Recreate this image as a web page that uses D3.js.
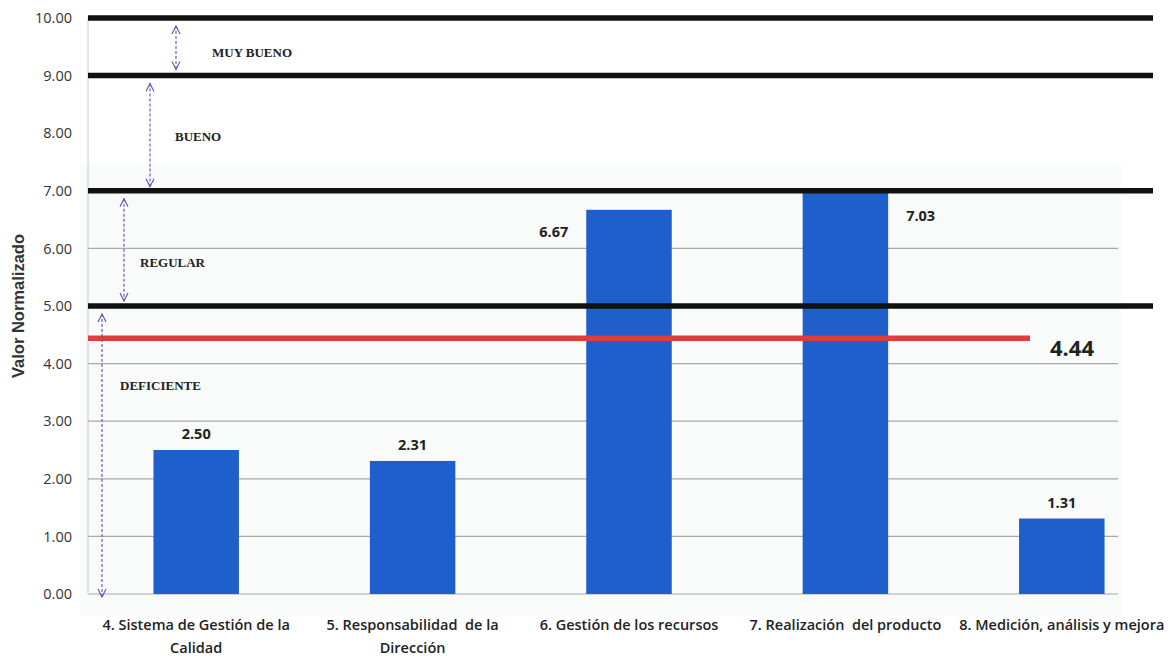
<!DOCTYPE html>
<html><head><meta charset="utf-8">
<script src="https://cdn.jsdelivr.net/npm/d3@7"></script>
<style>body{margin:0;background:#fff}svg{display:block}text{white-space:pre}</style>
</head><body>
<svg id="c" width="1173" height="656"></svg>
<script>
const categories = [
  ["4. Sistema de Gestión de la", "Calidad"],
  ["5. Responsabilidad  de la", "Dirección"],
  ["6. Gestión de los recursos"],
  ["7. Realización  del producto"],
  ["8. Medición, análisis y mejora"]
];
const values = [2.50, 2.31, 6.67, 7.03, 1.31];
const labelSide = ["top", "top", "left", "right", "top"];
const average = 4.44;
const thresholds = [5, 7, 9, 10];
const bands = [
  {name: "DEFICIENTE", lo: 0, hi: 5},
  {name: "REGULAR", lo: 5, hi: 7},
  {name: "BUENO", lo: 7, hi: 9},
  {name: "MUY BUENO", lo: 9, hi: 10}
];
const gridTicks = [0, 1, 2, 3, 4, 6];
const tickValues = [0,1,2,3,4,5,6,7,8,9,10];

const svg = d3.select("#c");
const y = d3.scaleLinear().domain([0, 10]).range([594, 18]);
const keys = categories.map(c => c.join(" "));
const x = d3.scaleBand().domain(keys).range([88, 1170]).paddingInner(0.605).paddingOuter(0.3025);
const plotL = 88, plotR = 1118;

// faint plot background (lower scanned region)
svg.append("rect").attr("x", 80).attr("y", 165).attr("width", plotR + 3 - 80).attr("height", 450).attr("fill", "#f9fafa");

// gridlines
svg.append("g").selectAll("line").data(gridTicks).join("line")
  .attr("x1", plotL).attr("x2", plotR).attr("y1", d => y(d)).attr("y2", d => y(d))
  .attr("stroke", "#a8a8a8").attr("stroke-width", 1.2);

// left axis line
svg.append("line").attr("x1", plotL).attr("x2", plotL).attr("y1", y(10)).attr("y2", y(0))
  .attr("stroke", "#c8c8c8").attr("stroke-width", 1);

// y tick labels
const yAxis = d3.axisLeft(y).tickValues(tickValues).tickFormat(d3.format(".2f")).tickSize(0).tickPadding(16);
const ga = svg.append("g").attr("transform", `translate(${plotL},0)`).call(yAxis);
ga.select(".domain").remove();
ga.selectAll("text").attr("font-family", "Open Sans, sans-serif").attr("font-size", 14.5).attr("fill", "#333");

// y title
svg.append("text").attr("transform", `translate(24,${y(5)}) rotate(-90)`).attr("text-anchor", "middle")
  .attr("font-family", "Liberation Sans, Arial, sans-serif").attr("font-weight", "bold").attr("font-size", 16.5).attr("fill", "#333")
  .text("Valor Normalizado");

// bars
svg.append("g").selectAll("rect").data(values).join("rect")
  .attr("x", (d, i) => x(keys[i])).attr("width", x.bandwidth())
  .attr("y", d => y(d)).attr("height", d => y(0) - y(d))
  .attr("fill", "#1f5fcc");

// threshold thick lines
svg.append("g").selectAll("line").data(thresholds).join("line")
  .attr("x1", plotL).attr("x2", 1153).attr("y1", d => y(d)).attr("y2", d => y(d))
  .attr("stroke", "#111").attr("stroke-width", 5.5);

// average red line
svg.append("line").attr("x1", plotL).attr("x2", 1030).attr("y1", y(average)).attr("y2", y(average))
  .attr("stroke", "#e23b3b").attr("stroke-width", 5.5);
svg.append("text").attr("x", 1050).attr("y", y(average) + 18)
  .attr("font-family", "Open Sans, sans-serif").attr("font-weight", "bold").attr("font-size", 22).attr("fill", "#222")
  .text(d3.format(".2f")(average));

// value labels
svg.append("g").selectAll("text").data(values).join("text")
  .attr("x", (d, i) => {
    const cx = x(keys[i]) + x.bandwidth() / 2;
    if (labelSide[i] === "left") return x(keys[i]) - 18;
    if (labelSide[i] === "right") return x(keys[i]) + x.bandwidth() + 18;
    return cx;
  })
  .attr("y", (d, i) => labelSide[i] === "top" ? y(d) - 11 : labelSide[i] === "left" ? y(d) + 27 : y(d) + 32)
  .attr("text-anchor", (d, i) => labelSide[i] === "left" ? "end" : labelSide[i] === "right" ? "start" : "middle")
  .attr("font-family", "Open Sans, sans-serif").attr("font-weight", "bold").attr("font-size", 14.5).attr("fill", "#222")
  .text(d => d3.format(".2f")(d));

// category labels
const cl = svg.append("g").selectAll("text").data(categories).join("text")
  .attr("x", (d, i) => x(keys[i]) + x.bandwidth() / 2).attr("y", 630)
  .attr("text-anchor", "middle").attr("font-family", "Open Sans, sans-serif").attr("font-weight", 600)
  .attr("font-size", 14.5).attr("fill", "#222");
cl.selectAll("tspan").data(d => d).join("tspan")
  .attr("x", function() { return this.parentNode.getAttribute("x"); })
  .attr("dy", (d, j) => j === 0 ? 0 : 23).text(d => d);

// range arrows
const arrowX = [102, 124, 150, 176];
const arrowInset = [[4, 3], [4, 5], [4, 4], [4, 6]];
const labelPos = [[120, 390], [140, 267], [175, 141], [212, 57]];
const ag = svg.append("g");
bands.forEach((b, i) => {
  const ax = arrowX[i];
  const yTop = y(b.hi) + arrowInset[i][0] + 4;
  const yBot = y(b.lo) - arrowInset[i][1] + (i === 0 ? 6 : 0);
  ag.append("line").attr("x1", ax).attr("x2", ax).attr("y1", yTop).attr("y2", yBot)
    .attr("stroke", "#5a52b8").attr("stroke-width", 1.1).attr("stroke-dasharray", "3,2");
  ag.append("path").attr("d", `M${ax-4},${yTop+8}L${ax},${yTop}L${ax+4},${yTop+8}`)
    .attr("fill", "none").attr("stroke", "#5a52b8").attr("stroke-width", 1.1);
  ag.append("path").attr("d", `M${ax-4},${yBot-8}L${ax},${yBot}L${ax+4},${yBot-8}`)
    .attr("fill", "none").attr("stroke", "#5a52b8").attr("stroke-width", 1.1);
  ag.append("text").attr("x", labelPos[i][0]).attr("y", labelPos[i][1])
    .attr("font-family", "Liberation Serif, Times New Roman, serif").attr("font-weight", "bold")
    .attr("font-size", 13).attr("fill", "#222").text(b.name);
});
</script>
</body></html>
